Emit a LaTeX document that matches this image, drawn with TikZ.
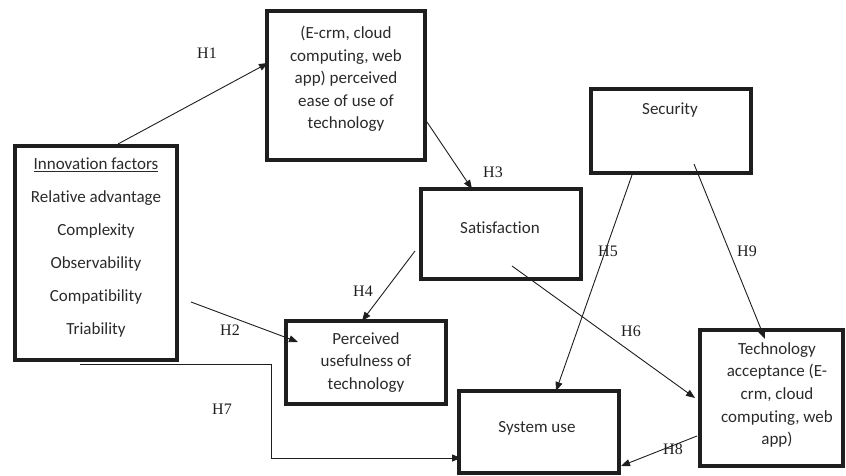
\documentclass[tikz,border=0pt]{standalone}
\usepackage{fontspec}
\setmainfont[RawFeature={-liga}]{Carlito}
\newfontfamily\hfont{Liberation Serif}
\usetikzlibrary{arrows.meta}
\definecolor{ink}{HTML}{1E1E1E}
\definecolor{txt}{HTML}{2A2A2A}
\tikzset{
  box/.style={draw=ink, line width=4pt, inner sep=0pt, outer sep=0pt},
  lbl/.style={text=txt, font=\fontsize{17}{22.6}\selectfont, align=center, inner sep=0pt},
  hyp/.style={text=ink, font=\hfont\fontsize{16}{18}\selectfont, inner sep=0pt},
  arr/.style={draw=ink, line width=0.9pt, -{Triangle[length=9pt,width=7pt]}},
  ln/.style={draw=ink, line width=0.9pt}
}
\begin{document}
\begin{tikzpicture}[x=1pt,y=-1pt]
\useasboundingbox (0,0) rectangle (846,476);
% boxes
\node[box, minimum width=158pt, minimum height=149pt] (ease) at (346,85.5) {};
\node[box, minimum width=162pt, minimum height=214pt] (innov) at (96,253) {};
\node[box, minimum width=160pt, minimum height=84pt] (sec) at (671,131) {};
\node[box, minimum width=160pt, minimum height=90pt] (sat) at (501,234) {};
\node[box, minimum width=160pt, minimum height=83pt] (pu) at (366,362.5) {};
\node[box, minimum width=160pt, minimum height=82pt] (su) at (539,432) {};
\node[box, minimum width=143pt, minimum height=136pt] (ta) at (771.5,398) {};
% texts
\node[lbl] (easet) at (346,79) {(E-crm, cloud\\computing, web\\app) perceived\\ease of use of\\technology};
\node[lbl, font=\fontsize{17}{33}\selectfont] (innovt) at (96,247.5) {\underline{Innovation factors}\\Relative advantage\\Complexity\\Observability\\Compatibility\\Triability};
\node[lbl] (sect) at (670,110) {Security};
\node[lbl] (satt) at (500,228) {Satisfaction};
\node[lbl] (put) at (366,362.5) {Perceived\\usefulness of\\technology};
\node[lbl] (sut) at (537,428) {System use};
\node[lbl] (tat) at (777,395) {Technology\\acceptance (E-\\crm, cloud\\computing, web\\app)};
% hypothesis labels
\node[hyp] (h1) at (207,53) {H1};
\node[hyp] (h2) at (230,330) {H2};
\node[hyp] (h3) at (493,172) {H3};
\node[hyp] (h4) at (363,291) {H4};
\node[hyp] (h5) at (608,251) {H5};
\node[hyp] (h6) at (631,331) {H6};
\node[hyp] (h7) at (222,409) {H7};
\node[hyp] (h8) at (673,449) {H8};
\node[hyp] (h9) at (747,251) {H9};
% connector end points
\coordinate (a1) at (118,144);  \coordinate (b1) at (268,63);
\coordinate (a2) at (191,302);  \coordinate (b2) at (298,342);
\coordinate (a3) at (427,122);  \coordinate (b3) at (472,189);
\coordinate (a4) at (415,251);  \coordinate (b4) at (362,321);
\coordinate (a5) at (632,175);  \coordinate (b5) at (556,391);
\coordinate (a6) at (512,266);  \coordinate (b6) at (695,398);
\coordinate (a7) at (80,364);   \coordinate (m7) at (271,364);
\coordinate (n7) at (271,458);  \coordinate (b7) at (461,458);
\coordinate (a8) at (697,436);  \coordinate (b8) at (621,466);
\coordinate (a9) at (694,164);  \coordinate (b9) at (765,339);
% connectors
\draw[arr] (a1) -- (b1);
\draw[arr] (a2) -- (b2);
\draw[arr] (a3) -- (b3);
\draw[arr] (a4) -- (b4);
\draw[arr] (a5) -- (b5);
\draw[arr] (a6) -- (b6);
\draw[arr] (a7) -- (m7) -- (n7) -- (b7);
\draw[arr] (a8) -- (b8);
\draw[arr] (a9) -- (b9);
\end{tikzpicture}
\end{document}
